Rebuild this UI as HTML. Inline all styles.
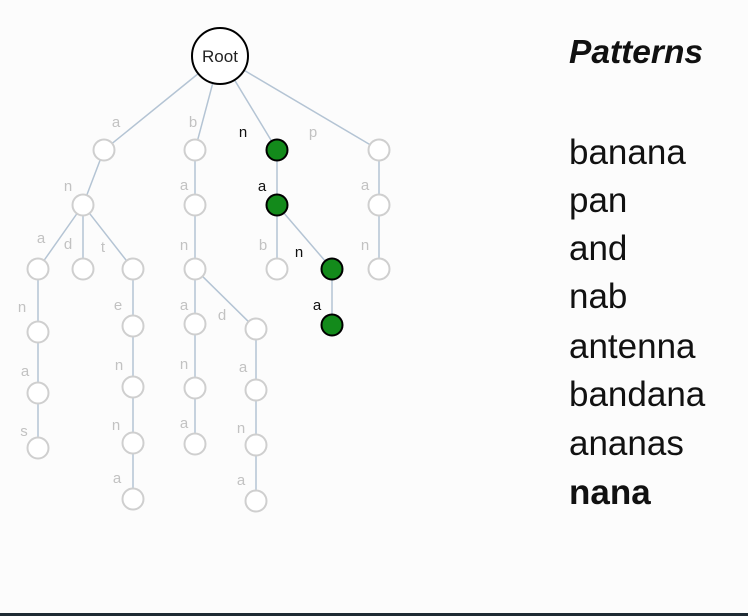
<!DOCTYPE html>
<html><head><meta charset="utf-8"><style>
html,body{margin:0;padding:0;background:#fcfcfc;width:748px;height:616px;overflow:hidden}
svg{display:block}
</style></head><body>
<svg width="748" height="616" xmlns="http://www.w3.org/2000/svg">
<rect x="0" y="0" width="748" height="616" fill="#fcfcfc"/>
<rect x="0" y="613" width="748" height="3" fill="#1e2a33"/>
<g id="edges"></g>
<g id="labels"></g>
<g id="nodes"></g>
<g>
<circle cx="220" cy="56" r="28" fill="#fff" stroke="#000" stroke-width="2"/>
<text x="220" y="62" text-anchor="middle" font-family="Liberation Sans, sans-serif" font-size="17" fill="#222">Root</text>
</g>
<g font-family="Liberation Sans, sans-serif" fill="#111">
<text x="569" y="63" font-size="33.5" font-weight="bold" font-style="italic">Patterns</text>
<text x="569" y="164" font-size="35">banana</text>
<text x="569" y="212" font-size="35">pan</text>
<text x="569" y="260" font-size="35">and</text>
<text x="569" y="308" font-size="35">nab</text>
<text x="569" y="358" font-size="35">antenna</text>
<text x="569" y="406" font-size="35">bandana</text>
<text x="569" y="455" font-size="35">ananas</text>
<text x="569" y="504" font-size="35" font-weight="bold">nana</text>
</g>
</svg>
<script>
// node: [id, parent, x, y, label, labelX, labelY, highlighted]
const nodes = [
["a","root",104,150,"a",116,122,0],
["b","root",195,150,"b",193,122,0],
["n","root",277,150,"n",243,132,1],
["p","root",379,150,"p",313,132,0],
["an","a",83,205,"n",68,186,0],
["ba","b",195,205,"a",184,185,0],
["na","n",277,205,"a",262,186,1],
["pa","p",379,205,"a",365,185,0],
["ana","an",38,269,"a",41,238,0],
["and","an",83,269,"d",68,244,0],
["ant","an",133,269,"t",103,247,0],
["ban","ba",195,269,"n",184,245,0],
["nab","na",277,269,"b",263,245,0],
["nan","na",332,269,"n",299,252,1],
["pan","pa",379,269,"n",365,245,0],
["anan","ana",38,332,"n",22,307,0],
["ante","ant",133,326,"e",118,305,0],
["bana","ban",195,324,"a",184,305,0],
["band","ban",256,329,"d",222,315,0],
["nana","nan",332,325,"a",317,305,1],
["anana","anan",38,393,"a",25,371,0],
["anten","ante",133,387,"n",119,365,0],
["banan","bana",195,388,"n",184,364,0],
["banda","band",256,390,"a",243,367,0],
["ananas","anana",38,448,"s",24,431,0],
["antenn","anten",133,443,"n",116,425,0],
["banana","banan",195,444,"a",184,423,0],
["bandan","banda",256,445,"n",241,428,0],
["antenna","antenn",133,499,"a",117,478,0],
["bandana","bandan",256,501,"a",241,480,0]
];
const NS="http://www.w3.org/2000/svg";
const pos={root:[220,56,28]};
nodes.forEach(n=>{pos[n[0]]=[n[2],n[3],11];});
const eg=document.getElementById('edges'),lg=document.getElementById('labels'),ng=document.getElementById('nodes');
nodes.forEach(n=>{
  const p=pos[n[1]],c=pos[n[0]];
  const dx=c[0]-p[0],dy=c[1]-p[1],d=Math.hypot(dx,dy);
  const l=document.createElementNS(NS,'line');
  l.setAttribute('x1',p[0]+dx/d*p[2]);l.setAttribute('y1',p[1]+dy/d*p[2]);
  l.setAttribute('x2',c[0]-dx/d*c[2]);l.setAttribute('y2',c[1]-dy/d*c[2]);
  l.setAttribute('stroke','#b4c4d4');l.setAttribute('stroke-width','1.5');
  
  
  eg.appendChild(l);
  const t=document.createElementNS(NS,'text');
  t.setAttribute('x',n[5]);t.setAttribute('y',n[6]+5);
  t.setAttribute('font-family','Liberation Sans, sans-serif');t.setAttribute('font-size','15');
  t.setAttribute('fill',n[7]?'#111':'#c2c2c2');t.setAttribute('text-anchor','middle');
  t.textContent=n[4];
  
  
  lg.appendChild(t);
  const ci=document.createElementNS(NS,'circle');
  ci.setAttribute('cx',c[0]);ci.setAttribute('cy',c[1]);ci.setAttribute('r',10.5);
  ci.setAttribute('fill',n[7]?'#138a1b':'#fff');
  ci.setAttribute('stroke',n[7]?'#000':'#cfcfcf');ci.setAttribute('stroke-width','2');
  
  
  ng.appendChild(ci);
});
</script>
</body></html>
